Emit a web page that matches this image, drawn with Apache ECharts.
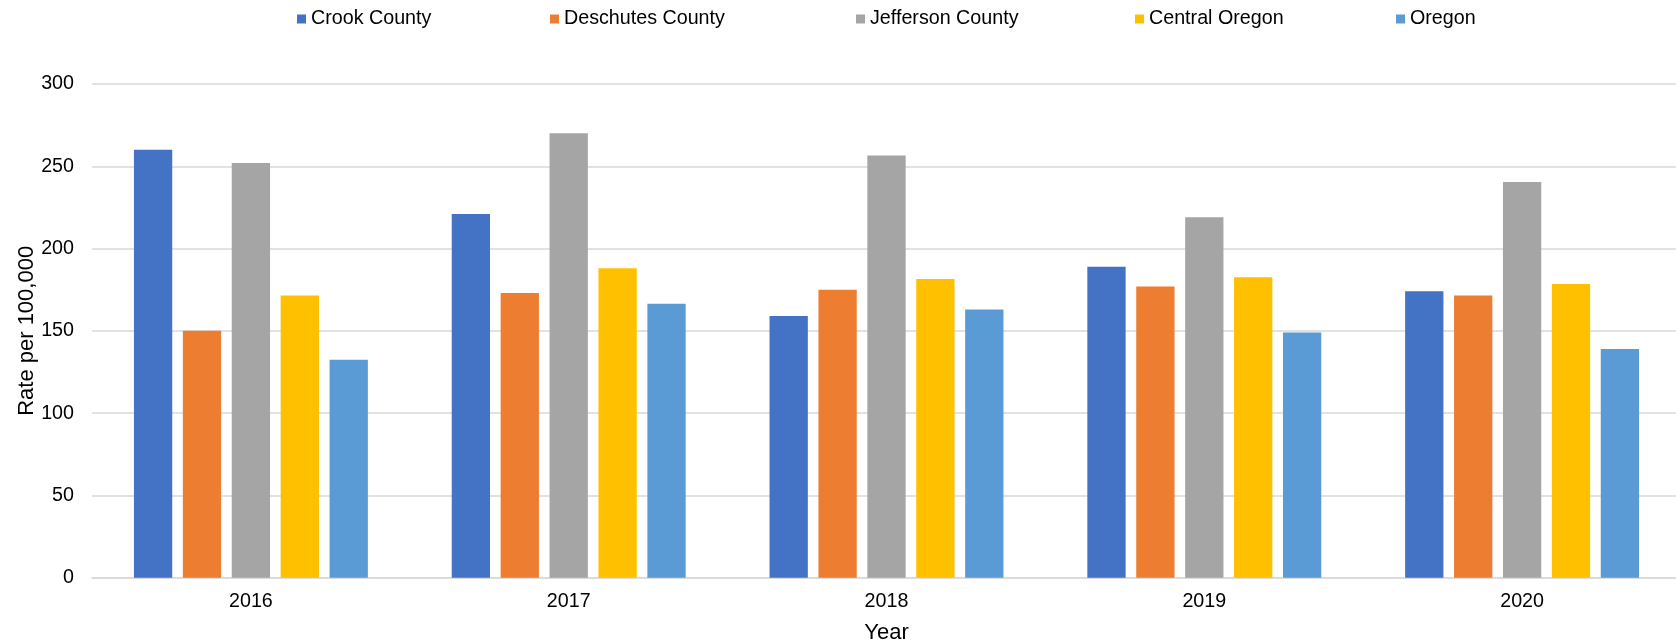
<!DOCTYPE html>
<html>
<head>
<meta charset="utf-8">
<script src="https://cdn.jsdelivr.net/npm/echarts@6/dist/echarts.min.js"></script>
<style>
html,body{margin:0;padding:0;background:#fff;}
#c{width:1676px;height:642px;}
</style>
</head>
<body>
<div id="c"></div>
<script>
const years = ['2016', '2017', '2018', '2019', '2020'];
const seriesNames = ['Crook County', 'Deschutes County', 'Jefferson County', 'Central Oregon', 'Oregon'];
const crook = [260, 221, 159, 189, 174];
const deschutes = [150, 173, 175, 177, 171.5];
const jefferson = [252, 270, 256.5, 219, 240.5];
const centralOregon = [171.5, 188, 181.5, 182.5, 178.5];
const oregon = [132.5, 166.5, 163, 149, 139];
const yTicks = { min: 0, max: 300, interval: 50 };

const values = [crook, deschutes, jefferson, centralOregon, oregon];
const colors = ['#4472C4', '#ED7D31', '#A5A5A5', '#FFC000', '#5B9BD5'];
const legendLefts = [297, 550, 856, 1135, 1396];
const font = 'Liberation Sans, Arial, sans-serif';
const fs = 19.7;
const titleFs = 22;

const chart = echarts.init(document.getElementById('c'));
chart.setOption({
  animation: false,
  color: colors,
  textStyle: { fontFamily: font },
  legend: seriesNames.map((n, i) => ({
    data: [n],
    left: legendLefts[i],
    top: 9,
    padding: 0,
    itemWidth: 9,
    itemHeight: 9,
    icon: 'rect',
    selectedMode: false,
    textStyle: { fontFamily: font, fontSize: fs, color: '#000' }
  })),
  grid: { left: 92, right: -5, top: 84, bottom: 64.3, outerBoundsMode: 'none', containLabel: false },
  xAxis: {
    type: 'category',
    data: years,
    name: 'Year',
    nameLocation: 'middle',
    nameGap: 44,
    nameMoveOverlap: false,
    nameTextStyle: { fontFamily: font, fontSize: titleFs, color: '#000' },
    axisLine: { show: true, lineStyle: { color: '#D9D9D9', width: 1.5 } },
    axisTick: { show: false },
    axisLabel: { margin: 14, fontFamily: font, fontSize: fs, color: '#000' }
  },
  yAxis: {
    type: 'value',
    min: yTicks.min,
    max: yTicks.max,
    interval: yTicks.interval,
    name: 'Rate per 100,000',
    nameLocation: 'middle',
    nameRotate: 90,
    nameGap: 54,
    nameMoveOverlap: false,
    nameTextStyle: { fontFamily: font, fontSize: titleFs, color: '#000' },
    axisLine: { show: false },
    axisTick: { show: false },
    splitLine: { lineStyle: { color: '#D9D9D9', width: 1.5 } },
    axisLabel: { margin: 18, fontFamily: font, fontSize: fs, color: '#000' }
  },
  series: seriesNames.map((n, i) => ({
    name: n,
    type: 'bar',
    data: values[i],
    barWidth: 38.3,
    barGap: '27.7%',
    itemStyle: { color: colors[i] }
  }))
});
</script>
</body>
</html>
